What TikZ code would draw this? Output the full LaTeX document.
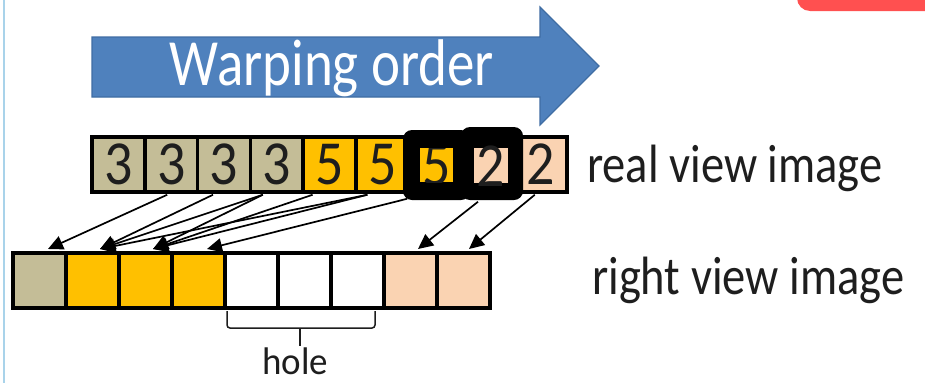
\documentclass[tikz,border=0pt]{standalone}
\usepackage{graphicx}
\usepackage{fontspec}
\setmainfont{Carlito}
\usetikzlibrary{arrows.meta}
\definecolor{pixtan}{HTML}{C4BD97}
\definecolor{pixyellow}{HTML}{FFC000}
\definecolor{pixpeach}{HTML}{FAD3B2}
\definecolor{arrowblue}{HTML}{4F81BD}
\definecolor{arrowedge}{HTML}{3F6DA3}
\definecolor{textgray}{HTML}{1E1E1E}
\definecolor{tabred}{HTML}{FF5050}
\definecolor{rulerblue}{HTML}{A9D3EA}
\newcommand{\vstretch}[2]{\scalebox{1}[#1]{#2}}
\begin{document}
\begin{tikzpicture}[x=1pt,y=-1pt,
  toppix/.style={draw=black, line width=3.5pt, minimum width=52.8pt,
    minimum height=55pt, inner sep=0pt, font=\fontsize{56}{56}\selectfont, text=textgray},
  botpix/.style={draw=black, line width=4pt, minimum width=53pt,
    minimum height=55pt, inner sep=0pt},
  digit/.style={inner sep=0pt, font=\fontsize{56}{56}\selectfont, text=textgray},
  warp/.style={line width=1.7pt, -{Triangle[length=15pt,width=14pt]}},
  viewlabel/.style={text=textgray, inner sep=0pt, font=\fontsize{46.5}{50}\selectfont}]
\useasboundingbox (0,0) rectangle (925,383);
\clip (0,0) rectangle (925,383);
\fill[white] (0,0) rectangle (925,383);

% frame edge and tab
\draw[rulerblue, line width=1.5pt] (4,0) -- (4,383);
\fill[tabred, rounded corners=13pt] (797,-30) rectangle (960,11);

% block arrow
\draw[arrowedge, fill=arrowblue, line width=1.2pt, line join=miter]
  (92,37) -- (540,37) -- (540,7) -- (599,66) -- (540,125) -- (540,97) -- (92,97) -- cycle;
\node[text=white, font=\fontsize{55}{60}\selectfont, anchor=base, inner sep=0pt]
  (order) at (332,85) {\vstretch{1.2}{Warping order}};

% real view pixels
\foreach \i/\c/\d in {1/pixtan/3,2/pixtan/3,3/pixtan/3,4/pixtan/3,5/pixyellow/5,
                      6/pixyellow/5,9/pixpeach/2}
  \node[toppix, fill=\c] (t\i) at ({92+52.8*(\i-0.5)},164.5) {\vstretch{1.12}{\d}};
\foreach \i/\c in {7/pixyellow,8/pixpeach}
  \node[toppix, fill=\c] (t\i) at ({92+52.8*(\i-0.5)},164.5) {};

% highlighted pixels
\fill[black, rounded corners=9pt] (403,130) rectangle (470,200);
\fill[black, rounded corners=9pt] (461,127) rectangle (523,200);
\fill[pixyellow] (420,148) rectangle (453,182);
\fill[pixpeach] (474,148) rectangle (508,183);
\begin{scope}
  \clip (420,148) rectangle (453,182);
  \node[digit] (t7d) at (437,166) {\vstretch{1.12}{5}};
\end{scope}
\node[digit] (t8d) at (491,166) {\vstretch{1.12}{2}};

% right view pixels
\foreach \i/\c in {1/pixtan,2/pixyellow,3/pixyellow,4/pixyellow,5/white,
                   6/white,7/white,8/pixpeach,9/pixpeach}
  \node[botpix, fill=\c] (b\i) at ({13+53*(\i-0.5)},280.5) {};

% warping connectors
\draw[warp] ([xshift=-4pt,yshift=-1pt]t2.south)  -- ([xshift=8.5pt,yshift=2pt]b1.north);
\draw[warp] ([xshift=-11pt,yshift=-1pt]t3.south) -- ([xshift=7.5pt,yshift=2pt]b2.north);
\draw[warp] ([xshift=-14pt,yshift=-1pt]t4.south) -- ([xshift=7.5pt,yshift=2pt]b2.north);
\draw[warp] ([xshift=-14pt,yshift=-1pt]t4.south) -- ([xshift=7.5pt,yshift=2pt]b3.north);
\draw[warp] ([xshift=-17pt,yshift=-1pt]t5.south) -- ([xshift=7.5pt,yshift=2pt]b3.north);
\draw[warp] ([xshift=-15pt,yshift=-1pt]t6.south) -- ([xshift=7.5pt,yshift=2pt]b2.north);
\draw[warp] ([xshift=-15pt,yshift=-1pt]t6.south) -- ([xshift=7.5pt,yshift=2pt]b3.north);
\draw[warp] ([xshift=-28pt,yshift=-5pt]t7.south) -- ([xshift=8.5pt,yshift=2pt]b4.north);
\draw[warp] ([xshift=-10pt,yshift=-8pt]t8.south) -- ([xshift=7.5pt,yshift=2pt]b8.north);
\draw[warp] ([xshift=-6pt,yshift=-1pt]t9.south)  -- ([xshift=5.5pt,yshift=2pt]b9.north);

% labels
\node[viewlabel, anchor=base west] (realview) at (587,182) {\vstretch{1.16}{real view image}};
\node[viewlabel, anchor=base west] (rightview) at (592,294) {\vstretch{1.16}{right view image}};

% hole bracket
\draw[textgray, line width=1.5pt, rounded corners=3pt]
  (227,311) |- (300,328) -| (375,311);
\draw[textgray, line width=1.5pt] (300,328) -- (300,346);
\node[text=textgray, font=\fontsize{37}{40}\selectfont, anchor=base, inner sep=0pt]
  (hole) at (295,374) {\vstretch{1.04}{hole}};
\end{tikzpicture}
\end{document}
